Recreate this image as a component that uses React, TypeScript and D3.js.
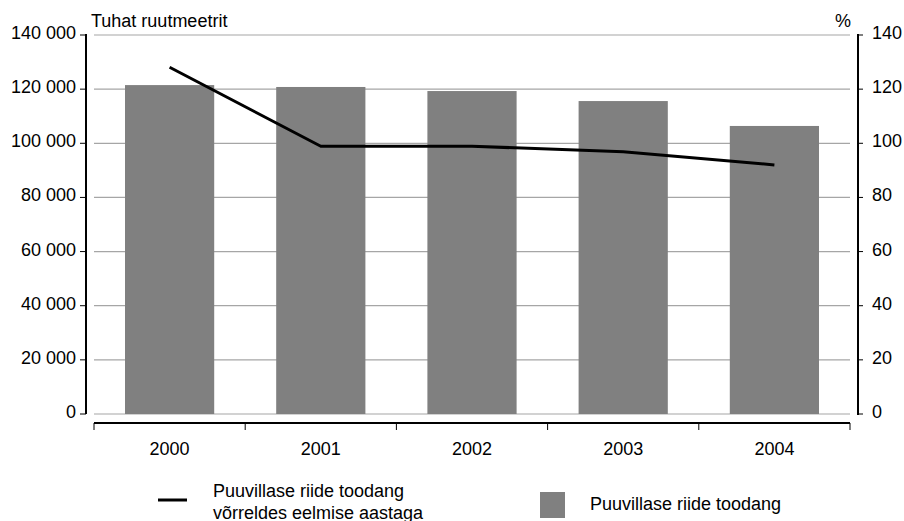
import React from "react";
import * as d3 from "d3";

const years = ["2000", "2001", "2002", "2003", "2004"];
const production = [121500, 120800, 119300, 115600, 106400];
const changePct = [128.1, 98.9, 98.9, 96.9, 92.0];
const leftTicks = [0, 20000, 40000, 60000, 80000, 100000, 120000, 140000];
const rightTicks = [0, 20, 40, 60, 80, 100, 120, 140];

const W = 904;
const H = 521;
const FONT = "'Liberation Sans', Arial, Helvetica, sans-serif";

export default function App() {
  const plotLeft = 94;
  const plotRight = 850;
  const yTop = 35;
  const yBottom = 414;
  const leftAxisX = 86;
  const rightAxisX = 858;
  const catAxisY = 423;

  const x = d3.scaleBand<string>().domain(years).range([plotLeft, plotRight]).paddingInner(0.41).paddingOuter(0.205);
  const xOuter = d3.scaleBand<string>().domain(years).range([plotLeft, plotRight]);
  const yL = d3.scaleLinear().domain([0, 140000]).range([yBottom, yTop]);
  const yR = d3.scaleLinear().domain([0, 140]).range([yBottom, yTop]);
  const fmt = (v: number) => d3.format(",")(v).replace(/,/g, " ");

  const line = d3
    .line<number>()
    .x((_, i) => (xOuter(years[i]) as number) + xOuter.bandwidth() / 2)
    .y((d) => yR(d));

  const boundaries = [...years.map((y) => xOuter(y) as number), plotRight];

  return (
    <svg width={W} height={H} style={{ position: "absolute", left: 0, top: 0 }} fontFamily={FONT} fontSize={18}>
      <rect width={W} height={H} fill="#fff" />
      {/* gridlines */}
      {leftTicks.map((t) => (
        <line key={"g" + t} x1={plotLeft} x2={plotRight} y1={yL(t)} y2={yL(t)} stroke="#a6a6a6" strokeWidth={1.2} />
      ))}
      {/* bars */}
      {years.map((yr, i) => (
        <rect
          key={yr}
          x={x(yr)}
          width={x.bandwidth()}
          y={yL(production[i])}
          height={yL(0) - yL(production[i])}
          fill="#808080"
        />
      ))}
      {/* line */}
      <path d={line(changePct) || ""} fill="none" stroke="#000" strokeWidth={3} strokeLinejoin="round" />

      {/* left axis */}
      <line x1={leftAxisX} x2={leftAxisX} y1={yTop - 1} y2={yBottom} stroke="#000" strokeWidth={2} />
      {leftTicks.map((t) => (
        <g key={"l" + t}>
          <line x1={leftAxisX - 6} x2={leftAxisX} y1={yL(t)} y2={yL(t)} stroke="#000" strokeWidth={1} />
          <text x={76} y={yL(t) + 4} textAnchor="end" fill="#000">
            {fmt(t)}
          </text>
        </g>
      ))}
      <text x={91} y={27} fill="#000">Tuhat ruutmeetrit</text>

      {/* right axis */}
      <line x1={rightAxisX} x2={rightAxisX} y1={yTop - 1} y2={yBottom + 1} stroke="#000" strokeWidth={2} />
      {rightTicks.map((t) => (
        <g key={"r" + t}>
          <line x1={rightAxisX} x2={rightAxisX + 5} y1={yR(t)} y2={yR(t)} stroke="#000" strokeWidth={1} />
          <text x={872} y={yR(t) + 4} textAnchor="start" fill="#000">
            {t}
          </text>
        </g>
      ))}
      <text x={835} y={27} fill="#000">%</text>

      {/* category axis */}
      <line x1={plotLeft} x2={plotRight} y1={catAxisY} y2={catAxisY} stroke="#000" strokeWidth={2} />
      {boundaries.map((b, i) => (
        <line key={"b" + i} x1={b} x2={b} y1={catAxisY} y2={catAxisY + 7} stroke="#000" strokeWidth={1} />
      ))}
      {years.map((yr) => (
        <text key={"c" + yr} x={(xOuter(yr) as number) + xOuter.bandwidth() / 2} y={455} textAnchor="middle" fill="#000">
          {yr}
        </text>
      ))}

      {/* legend */}
      <line x1={158} x2={187} y1={500} y2={500} stroke="#000" strokeWidth={3} />
      <text x={213} y={497} fill="#000">Puuvillase riide toodang</text>
      <text x={213} y={519} fill="#000">võrreldes eelmise aastaga</text>
      <rect x={540} y={492} width={25} height={26} fill="#808080" />
      <text x={590} y={510} fill="#000">Puuvillase riide toodang</text>
    </svg>
  );
}
